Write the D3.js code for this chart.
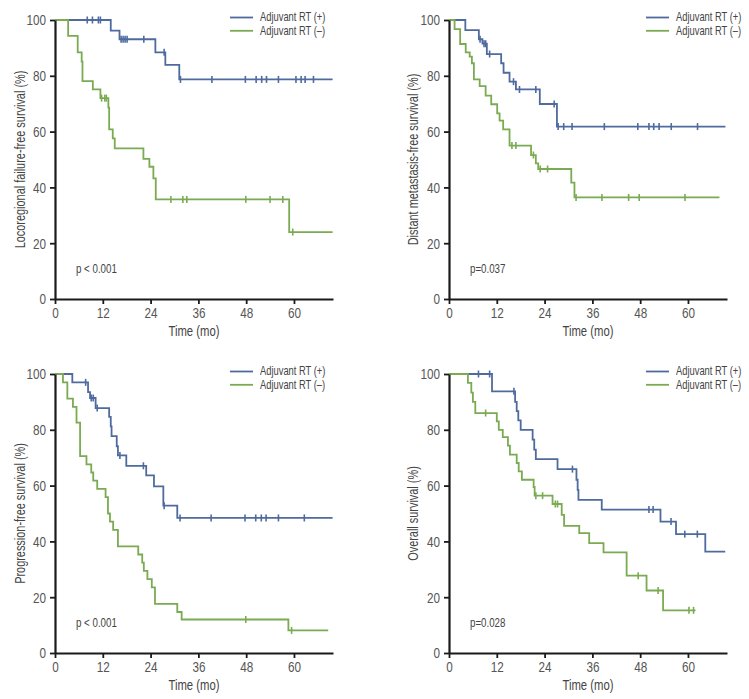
<!DOCTYPE html>
<html><head><meta charset="utf-8">
<script src="https://cdn.jsdelivr.net/npm/d3@7"></script>
<style>
body{margin:0;background:#fff;}
svg{display:block;}
text{font-family:"Liberation Sans",Arial,sans-serif;}
</style></head>
<body>
<script>
// ---- data (time in months, survival in %) ----
const xTicks = [0, 12, 24, 36, 48, 60];
const yTicks = [0, 20, 40, 60, 80, 100];
const legendLabels = ["Adjuvant RT (+)", "Adjuvant RT (\u2013)"];
const yLabels = ["Locoregional failure-free survival (%)", "Distant metastasis-free survival (%)", "Progression-free survival (%)", "Overall survival (%)"];
const pValues = ["p < 0.001", "p=0.037", "p < 0.001", "p=0.028"];

// Locoregional failure-free survival
const lrPlusT = [0, 14.0, 16.2, 25.2, 27.7, 31.2];
const lrPlusS = [100, 96.2, 93.1, 88.4, 83.9, 78.7];
const lrPlusC = [8.1, 9.4, 10.9, 11.4, 16.6, 17.1, 17.6, 18.1, 22.3, 27.4, 31.5, 39.4, 47.8, 50.5, 51.9, 53.1, 56.1, 60.5, 61.8, 62.8, 64.9];
const lrPlusEnd = 69.7;
const lrMinusT = [0, 3.3, 5.7, 6.7, 6.9, 9.5, 11.4, 13.4, 13.6, 14.5, 15.0, 22.2, 23.7, 24.7, 25.3, 58.8];
const lrMinusS = [100, 94.3, 88.4, 85.1, 78.1, 75.1, 72.0, 68.6, 60.8, 57.6, 54.0, 50.2, 47.4, 43.2, 35.7, 24.0];
const lrMinusC = [11.7, 12.5, 12.9, 29.1, 32.1, 33.1, 47.9, 54.0, 57.2, 59.7];
const lrMinusEnd = 69.7;

// Distant metastasis-free survival
const dmPlusT = [0, 4.1, 7.5, 8.4, 9.5, 13.1, 13.7, 15.2, 16.8, 22.8, 27.1];
const dmPlusS = [100, 96.4, 93.1, 91.5, 87.8, 84.5, 81.1, 77.9, 75.1, 69.9, 61.8];
const dmPlusC = [7.8, 8.8, 9.2, 10.2, 16.2, 17.7, 21.8, 26.4, 27.4, 28.8, 30.9, 39.0, 47.4, 50.2, 51.4, 52.75, 55.8, 62.4];
const dmPlusEnd = 69.4;
const dmMinusT = [0, 1.4, 2.8, 4.2, 5.2, 5.75, 6.25, 7.7, 9.2, 10.6, 12.1, 12.7, 13.6, 15.2, 20.6, 21.8, 22.4, 30.7, 31.5];
const dmMinusS = [100, 96.7, 91.4, 88.4, 86.9, 84.5, 78.7, 76.3, 72.9, 69.8, 66.5, 63.9, 60.8, 55.0, 51.6, 48.6, 46.6, 41.7, 36.4];
const dmMinusC = [15.8, 16.8, 21.2, 22.9, 24.75, 31.9, 38.4, 45.1, 47.75, 59.25];
const dmMinusEnd = 67.9;

// Progression-free survival
const pfPlusT = [0, 4.35, 8.3, 8.8, 10.2, 13.6, 14.0, 14.2, 15.5, 15.8, 17.9, 22.9, 24.85, 27.2, 30.7];
const pfPlusS = [100, 97.0, 93.5, 91.4, 87.8, 84.6, 81.2, 77.7, 74.1, 70.8, 67.1, 63.7, 59.7, 52.8, 48.4];
const pfPlusC = [7.7, 9.1, 9.6, 10.6, 16.3, 22.2, 27.4, 31.4, 39.2, 47.7, 50.4, 51.8, 53.0, 56.1, 62.6];
const pfPlusEnd = 69.7;
const pfMinusT = [0, 2.0, 3.1, 4.5, 5.4, 6.3, 7.9, 9.1, 9.6, 10.6, 12.7, 13.3, 13.8, 14.6, 15.8, 20.9, 21.9, 22.3, 23.2, 24.3, 25.1, 30.7, 31.8, 58.6];
const pfMinusS = [100, 97.0, 91.2, 88.2, 82.6, 70.6, 67.6, 64.7, 61.8, 58.8, 55.9, 50.0, 47.1, 44.1, 38.2, 35.3, 32.4, 29.4, 26.5, 23.5, 17.6, 14.7, 12.0, 8.1];
const pfMinusC = [47.9, 59.4];
const pfMinusEnd = 68.6;

// Overall survival
const osPlusT = [0, 10.8, 16.6, 17.0, 17.4, 18.0, 21.0, 21.4, 21.8, 27.25, 32.0, 32.3, 32.5, 38.35, 53.1, 57.0, 64.35];
const osPlusS = [100, 93.8, 90.0, 86.7, 83.4, 80.0, 76.5, 72.9, 69.5, 65.9, 62.1, 58.5, 54.9, 51.4, 47.1, 42.6, 36.3];
const osPlusC = [7.4, 10.2, 16.3, 31.0, 50.2, 51.25, 55.75, 59.2, 62.35];
const osPlusEnd = 69.35;
const osMinusT = [0, 4.75, 5.6, 6.0, 6.6, 12.0, 12.5, 13.5, 14.8, 15.3, 17.0, 17.5, 18.3, 21.25, 21.5, 26.0, 28.3, 28.9, 32.7, 35.2, 38.8, 44.6, 49.6, 53.75];
const osMinusS = [100, 96.8, 93.3, 90.0, 86.0, 83.0, 80.0, 77.4, 74.3, 71.1, 68.1, 65.1, 62.1, 59.5, 56.4, 53.4, 49.5, 45.6, 43.0, 39.4, 36.1, 27.7, 22.4, 15.3];
const osMinusC = [9.2, 21.8, 23.5, 26.7, 27.25, 47.5, 52.5, 60.25, 61.4];
const osMinusEnd = 61.9;

const colors = ["#4f6b9e", "#7aab52"];

const panels = [
  {x0: 55, y0: 20, lx: 230, tx: 260, ylx: 20, series: [[lrPlusT, lrPlusS, lrPlusC, lrPlusEnd], [lrMinusT, lrMinusS, lrMinusC, lrMinusEnd]]},
  {x0: 449, y0: 20, lx: 646, tx: 676, ylx: 413, series: [[dmPlusT, dmPlusS, dmPlusC, dmPlusEnd], [dmMinusT, dmMinusS, dmMinusC, dmMinusEnd]]},
  {x0: 55, y0: 374, lx: 230, tx: 260, ylx: 20, series: [[pfPlusT, pfPlusS, pfPlusC, pfPlusEnd], [pfMinusT, pfMinusS, pfMinusC, pfMinusEnd]]},
  {x0: 449, y0: 374, lx: 646, tx: 676, ylx: 413, series: [[osPlusT, osPlusS, osPlusC, osPlusEnd], [osMinusT, osMinusS, osMinusC, osMinusEnd]]}
];

const W = 749, H = 699, pw = 278, ph = 279, squeeze = 0.78;
const svg = d3.select("body").append("svg").attr("width", W).attr("height", H);

panels.forEach((p, i) => {
  const x = d3.scaleLinear().domain([0, 69.8]).range([p.x0, p.x0 + pw]);
  const y = d3.scaleLinear().domain([0, 100]).range([p.y0 + ph, p.y0]);
  const g = svg.append("g");

  // curves
  p.series.forEach((s, k) => {
    const [T, S, C, end] = s;
    const pts = T.map((t, j) => [t, S[j]]);
    pts.push([end, S[S.length - 1]]);
    const line = d3.line().x(d => x(d[0])).y(d => y(d[1])).curve(d3.curveStepAfter);
    g.append("path").attr("d", line(pts)).attr("fill", "none")
      .attr("stroke", colors[k]).attr("stroke-width", 1.8);
    const surv = t => { let v = S[0]; for (let j = 0; j < T.length; j++) if (T[j] <= t) v = S[j]; return v; };
    g.selectAll(null).data(C).enter().append("line")
      .attr("x1", d => x(d)).attr("x2", d => x(d))
      .attr("y1", d => y(surv(d)) - 3.5).attr("y2", d => y(surv(d)) + 3.5)
      .attr("stroke", colors[k]).attr("stroke-width", 1.6);
  });

  // axes
  const xa = g.append("g").attr("transform", `translate(0,${p.y0 + ph})`)
    .call(d3.axisBottom(x).tickValues(xTicks).tickSize(5).tickSizeOuter(0).tickPadding(3));
  const ya = g.append("g").attr("transform", `translate(${p.x0},0)`)
    .call(d3.axisLeft(y).tickValues(yTicks).tickSize(5).tickSizeOuter(0).tickPadding(4));
  [xa, ya].forEach(a => {
    a.select(".domain").attr("stroke", "#1a1a1a").attr("stroke-width", 2.2);
    a.selectAll(".tick line").attr("stroke", "#1a1a1a").attr("stroke-width", 1.8);
    a.selectAll(".tick text").attr("fill", "#555").style("font-size", "15px")
      .style("font-family", '"Liberation Sans",Arial,sans-serif')
      .each(function () {
        const L = this.getComputedTextLength();
        this.setAttribute("textLength", (L * squeeze).toFixed(2));
        this.setAttribute("lengthAdjust", "spacingAndGlyphs");
      });
  });

  // narrow text helper: horizontal squeeze via transform
  const narrow = (tx, ty, rot, anchor, size, str) => {
    g.append("g").attr("transform", `translate(${tx},${ty}) rotate(${rot}) scale(${squeeze},1)`)
      .append("text").attr("text-anchor", anchor).attr("fill", "#444")
      .style("font-size", size + "px").text(str);
  };

  // axis titles
  narrow(p.x0 + pw / 2, p.y0 + ph + 36.5, 0, "middle", 14.5, "Time (mo)");
  narrow(p.ylx + 5, p.y0 + ph / 2, -90, "middle", 14, yLabels[i]);

  // p value
  narrow(p.x0 + 21, p.y0 + 253, 0, "start", 12.5, pValues[i]);

  // legend
  legendLabels.forEach((lab, k) => {
    const ly = p.y0 - 2.5 + k * 13.3;
    g.append("line").attr("x1", p.lx).attr("x2", p.lx + 23).attr("y1", ly).attr("y2", ly)
      .attr("stroke", colors[k]).attr("stroke-width", 1.8);
    narrow(p.tx, ly + 3.8, 0, "start", 12, lab);
  });
});
</script>
</body></html>
